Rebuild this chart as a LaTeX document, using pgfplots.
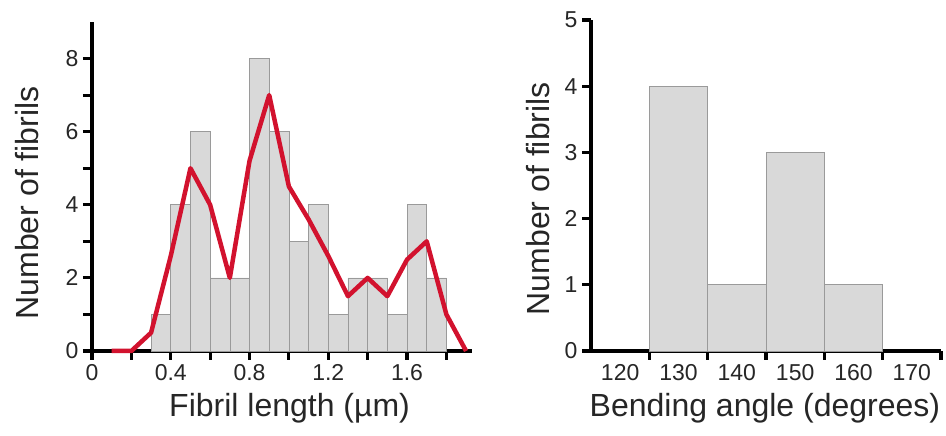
\documentclass[border=0pt]{standalone}
\usepackage{fontspec}
\setmainfont{Liberation Sans}
\usepackage{pgfplots}
\pgfplotsset{compat=1.18}

\definecolor{barfill}{HTML}{D9D9D9}
\definecolor{baredge}{HTML}{9A9A9A}
\definecolor{fitred}{HTML}{D2122E}

\pgfplotsset{
  fibril/.style={
    scale only axis,
    axis x line=bottom,
    axis y line=left,
    axis line style={-, line width=3.5pt, black},
    tick style={black, line width=3.2pt},
    tick align=outside,
    major tick length=9pt,
    minor tick length=9pt,
    ymin=0,
    /pgf/number format/assume math mode=true,
    tick label style={font=\fontsize{23}{23}\selectfont, text=black!85},
    label style={font=\fontsize{32}{32}\selectfont, text=black!85},
    xticklabel style={yshift=-1pt},
    yticklabel style={xshift=-1pt},
    clip=false,
  },
}

\begin{document}
\begin{tikzpicture}[x=1pt,y=1pt]
  % left: fibril length histogram with red frequency line
  \begin{axis}[
      fibril,
      at={(92pt,85pt)}, anchor=south west,
      width=380pt, height=329pt,
      xmin=0, xmax=1.93, ymax=9,
      xtick={0,0.4,0.8,1.2,1.6},
      minor xtick={0.2,0.6,1.0,1.4,1.8},
      ytick={0,2,4,6,8},
      minor ytick={1,3,5,7},
      xlabel={Fibril length (µm)},
      ylabel={Number of fibrils},
      xlabel style={at={(axis description cs:0.52,-0.175)}, anchor=center},
      ylabel style={at={(axis description cs:-0.17,0.45)}, anchor=center, rotate=0},
    ]
    \addplot[ybar, bar width=0.1, bar shift=0pt, fill=barfill, draw=baredge, line width=0.6pt]
      coordinates {
        (0.35,1) (0.45,4) (0.55,6) (0.65,2) (0.75,2) (0.85,8) (0.95,6) (1.05,3)
        (1.15,4) (1.25,1) (1.35,2) (1.45,2) (1.55,1) (1.65,4) (1.75,2)
      };
    \addplot[fitred, line width=4.5pt, line join=round, mark=none]
      coordinates {
        (0.1,0) (0.2,0) (0.3,0.5) (0.4,2.6) (0.5,5) (0.6,4) (0.7,2) (0.8,5.2)
        (0.9,7) (1.0,4.5) (1.1,3.6) (1.2,2.6) (1.3,1.5) (1.4,2) (1.5,1.5)
        (1.6,2.5) (1.7,3) (1.8,1) (1.9,0)
      };
  \end{axis}

  % right: bending angle histogram
  \begin{axis}[
      fibril,
      at={(591pt,85pt)}, anchor=south west,
      width=350pt, height=331pt,
      xmin=115, xmax=175, ymax=5,
      xtick={120,130,...,170},
      major x tick style={draw=none},
      minor xtick={125,135,...,175},
      ytick={0,1,...,5},
      xlabel={Bending angle (degrees)},
      ylabel={Number of fibrils},
      xlabel style={at={(axis description cs:0.497,-0.173)}, anchor=center},
      ylabel style={at={(axis description cs:-0.15,0.46)}, anchor=center, rotate=0},
    ]
    \addplot[ybar, bar width=10, bar shift=0pt, fill=barfill, draw=baredge, line width=0.6pt]
      coordinates {(130,4) (140,1) (150,3) (160,1)};
  \end{axis}

  \pgfresetboundingbox
  \path (0,0) rectangle (946pt,436pt);
\end{tikzpicture}
\end{document}
